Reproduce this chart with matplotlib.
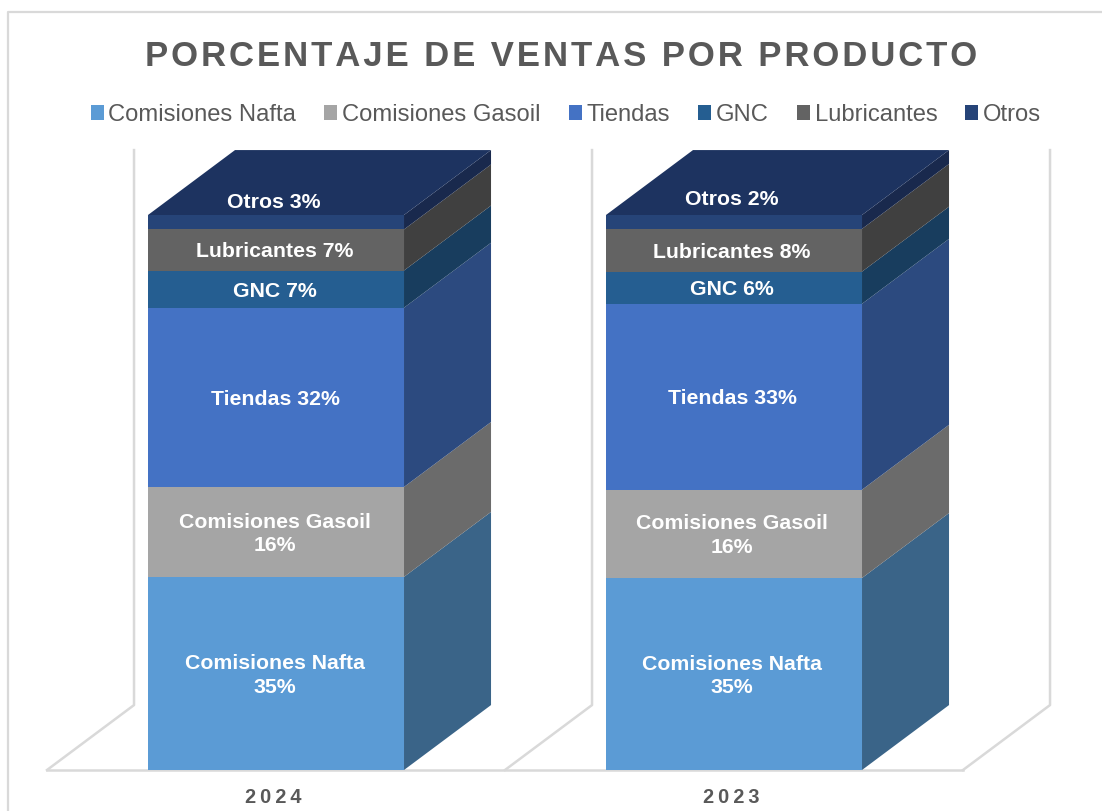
import matplotlib
matplotlib.use("Agg")
import matplotlib.pyplot as plt
from matplotlib.lines import Line2D
from matplotlib.patches import Patch, Polygon
from matplotlib.transforms import ScaledTranslation

plt.rcParams["font.family"] = ["Liberation Sans", "DejaVu Sans"]

# --------------------
# Data
# --------------------
years = ["2024", "2023"]
products = ["Comisiones Nafta", "Comisiones Gasoil", "Tiendas", "GNC", "Lubricantes", "Otros"]
ventas_2024 = [34.8, 16.2, 32.3, 6.7, 7.4, 2.6]
ventas_2023 = [34.6, 15.9, 33.5, 5.8, 7.7, 2.5]
labels_2024 = ["35%", "16%", "32%", "7%", "7%", "3%"]
labels_2023 = ["35%", "16%", "33%", "6%", "8%", "2%"]

# --------------------
# Style
# --------------------
front_colors = ["#5B9BD5", "#A5A5A5", "#4472C4", "#255E91", "#636363", "#264478"]
side_colors = ["#3A6488", "#6B6B6B", "#2C4A7F", "#183D5E", "#404040", "#19294D"]
top_color = "#1D3360"
grid_color = "#D9D9D9"
text_color = "#595959"
BAR_WIDTH = 0.559
DEPTH_X = 0.19
DEPTH_Y = 11.7
LABEL_DROP = 0.36
label_shift = [-0.002, -0.004]
otros_lift = [3.9, 4.4]


def spaced(text, gap):
    return gap.join(text)


fig = plt.figure(figsize=(11.02, 8.11), dpi=100)
ax = fig.add_axes([47 / 1102, 41 / 811, 916 / 1102, 555 / 811])
ax.set_xlim(-0.5, 1.5)
ax.set_ylim(0, 100)
for spine in ax.spines.values():
    spine.set_visible(False)
ax.set_yticks([])
ax.set_xticks(range(len(years)))
ax.set_xticklabels([spaced(y, "\u2009") for y in years], fontsize=14.4, fontweight="bold", color=text_color)
ax.tick_params(axis="x", length=0, pad=13)
for tick_label in ax.get_xticklabels():
    tick_label.set_transform(tick_label.get_transform() + ScaledTranslation(-2.5 / 100, 0, fig.dpi_scale_trans))

# Chart frame, only left and top show in the crop
fig.add_artist(Line2D([8 / 1102, 8 / 1102, 1], [0, 1 - 12 / 811, 1 - 12 / 811], color=grid_color, lw=1.6))

# Floor and back walls
wall_kw = dict(color=grid_color, lw=1.8, clip_on=False, zorder=1)
ax.plot([-0.5, 1.5], [0, 0], **wall_kw)
for x in [-0.5, 0.5, 1.5]:
    ax.plot([x, x + DEPTH_X, x + DEPTH_X], [0, DEPTH_Y, 100 + DEPTH_Y], **wall_kw)

# Stacked bars with the fake depth
for i, (values, labels) in enumerate(zip([ventas_2024, ventas_2023], [labels_2024, labels_2023])):
    bottom = 0
    x0 = i - BAR_WIDTH / 2
    x1 = i + BAR_WIDTH / 2
    for j, value in enumerate(values):
        top = bottom + value
        ax.bar(i, value, BAR_WIDTH, bottom=bottom, color=front_colors[j], zorder=3, clip_on=False)
        side = [(x1, bottom), (x1 + DEPTH_X, bottom + DEPTH_Y), (x1 + DEPTH_X, top + DEPTH_Y), (x1, top)]
        ax.add_patch(Polygon(side, closed=True, facecolor=side_colors[j], edgecolor="none", zorder=2, clip_on=False))

        # Label sits on the front face, long names wrap
        y = bottom + value / 2 - LABEL_DROP
        x = i + label_shift[i]
        sep = "\n" if j < 2 else " "
        if j == len(values) - 1:
            y += otros_lift[i]
            x -= 0.002
        ax.text(x, y, products[j] + sep + labels[j], ha="center", va="center", color="white",
                fontsize=15.3, fontweight="bold", linespacing=1.32, zorder=5)
        bottom = top
    top_face = [(x0, bottom), (x0 + DEPTH_X, bottom + DEPTH_Y), (x1 + DEPTH_X, bottom + DEPTH_Y), (x1, bottom)]
    ax.add_patch(Polygon(top_face, closed=True, facecolor=top_color, edgecolor="none", zorder=4, clip_on=False))

# Title and legend
fig.text(561 / 1102, 1 - 56 / 811, spaced("PORCENTAJE DE VENTAS POR PRODUCTO", "\u200a"),
         ha="center", va="center", fontsize=25, fontweight="bold", color=text_color)
handles = [Patch(facecolor=c, edgecolor="none") for c in front_colors]
fig.legend(handles, products, loc="center", bbox_to_anchor=(566 / 1102, 1 - 115 / 811), ncol=6, frameon=False,
           fontsize=17.15, labelcolor=text_color, handlelength=0.55, handleheight=0.55,
           handletextpad=0.2, columnspacing=1.175, borderpad=0)

fig.savefig("out.png", dpi=100)
